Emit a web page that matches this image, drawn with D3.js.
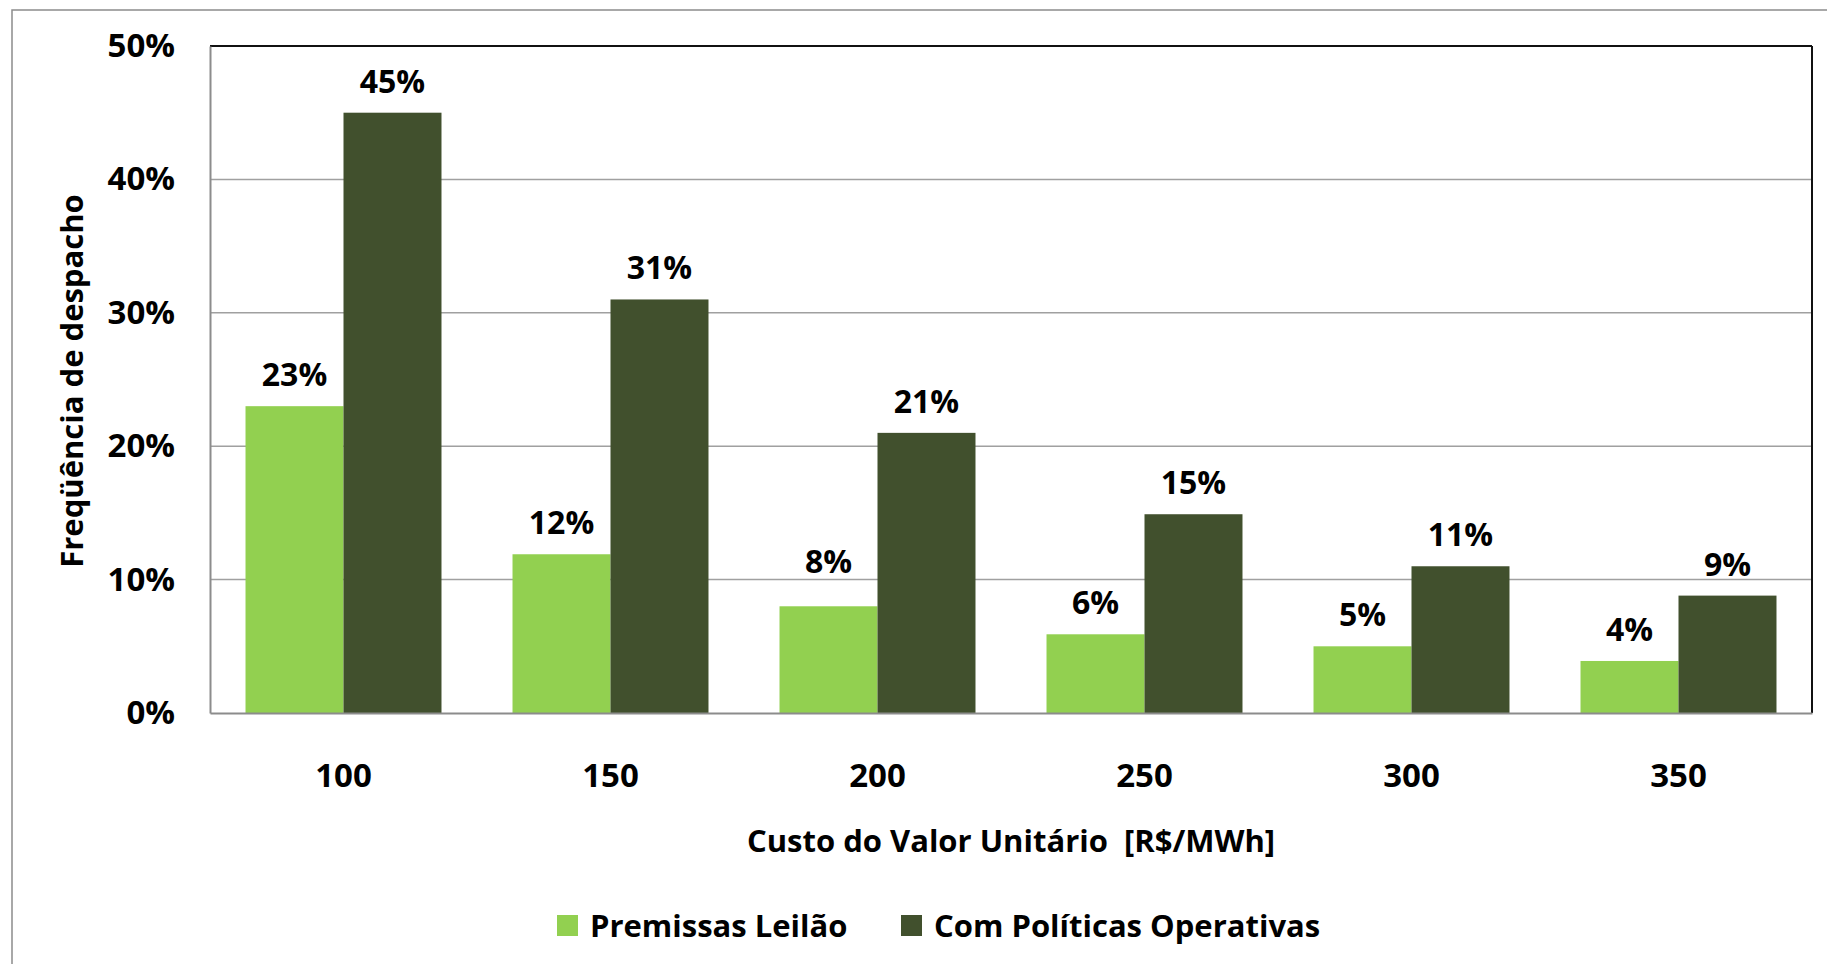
<!DOCTYPE html>
<html><head><meta charset="utf-8">
<script src="https://cdn.jsdelivr.net/npm/d3@7"></script>
<style>
html,body{margin:0;padding:0;background:#fff;}
svg{display:block;}
text{font-family:"Open Sans",sans-serif;font-weight:700;fill:#000;}
</style></head>
<body>
<svg id="chart" width="1827" height="964"></svg>
<script>
const categories = ["100","150","200","250","300","350"];
const seriesNames = ["Premissas Leilão","Com Políticas Operativas"];
const premissasLeilao = [0.23, 0.119, 0.08, 0.059, 0.05, 0.039];
const comPoliticas = [0.45, 0.31, 0.21, 0.149, 0.11, 0.088];
const yTicks = [0, 0.1, 0.2, 0.3, 0.4, 0.5];
const colors = ["#92D050", "#41502D"];
const xTitle = "Custo do Valor Unitário\u00A0\u00A0[R$/MWh]";
const yTitle = "Freqüência de despacho";

const svg = d3.select("#chart");
const L = 210, R = 1812, T = 46, B = 713;

// outer frame
svg.append("rect").attr("x",12).attr("y",10).attr("width",1840).attr("height",1000)
  .attr("fill","none").attr("stroke","#8c8c8c").attr("stroke-width",1.5);

const x0 = d3.scaleBand().domain(categories).range([L, R]).paddingInner(0.266).paddingOuter(0.133);
const x1 = d3.scaleBand().domain(seriesNames).range([0, x0.bandwidth()]).padding(0);
const y = d3.scaleLinear().domain([0, 0.5]).range([B, T]);

const gridVals = yTicks.filter(d => d > 0 && d < 0.5);
// gridlines
svg.append("g").selectAll("line").data(gridVals).join("line")
  .attr("x1", L).attr("x2", R).attr("y1", d => y(d)).attr("y2", d => y(d))
  .attr("stroke", "#a0a0a0").attr("stroke-width", 1.5);

// bars
const rows = categories.map((c, i) => ({cat: c, vals: [premissasLeilao[i], comPoliticas[i]]}));
const grp = svg.append("g").selectAll("g").data(rows).join("g")
  .attr("transform", d => `translate(${x0(d.cat)},0)`);
grp.selectAll("rect").data(d => d.vals.map((v, j) => ({s: seriesNames[j], v, j}))).join("rect")
  .attr("x", d => x1(d.s)).attr("width", x1.bandwidth())
  .attr("y", d => y(d.v)).attr("height", d => B - y(d.v))
  .attr("fill", d => colors[d.j]);

// data labels (moved above a gridline if it would cross the text)
const fmt = d3.format(".0%");
function labelY(v) {
  let base = y(v) - 20;
  gridVals.forEach(g => {
    const gy = y(g);
    if (gy < base && gy > base - 24) base = gy - 7;
  });
  return base;
}
grp.selectAll("text").data(d => d.vals.map((v, j) => ({s: seriesNames[j], v, j}))).join("text")
  .attr("x", d => x1(d.s) + x1.bandwidth() / 2)
  .attr("y", d => labelY(d.v))
  .attr("text-anchor", "middle").attr("font-size", 32)
  .text(d => fmt(d.v));

// plot frame: top & right black, left & bottom gray
svg.append("line").attr("x1", L).attr("x2", R).attr("y1", T).attr("y2", T).attr("stroke", "#111").attr("stroke-width", 2);
svg.append("line").attr("x1", R).attr("x2", R).attr("y1", T).attr("y2", B).attr("stroke", "#111").attr("stroke-width", 2);

// axes
const yAxis = svg.append("g").attr("transform", `translate(${L},0)`)
  .call(d3.axisLeft(y).tickValues(yTicks).tickFormat(d3.format(".0%")).tickSize(0).tickPadding(35));
yAxis.select(".domain").attr("stroke", "#8c8c8c").attr("stroke-width", 2);
yAxis.selectAll("text").attr("font-size", 33).attr("font-family", "Open Sans").attr("font-weight", 700).attr("fill", "#000");

const xAxis = svg.append("g").attr("transform", `translate(0,${B})`)
  .call(d3.axisBottom(x0).tickSize(0).tickPadding(51));
xAxis.select(".domain").attr("stroke", "#8c8c8c").attr("stroke-width", 2);
xAxis.selectAll("text").attr("font-size", 33).attr("font-family", "Open Sans").attr("font-weight", 700).attr("fill", "#000");

// axis titles
svg.append("text").attr("x", (L + R) / 2).attr("y", 852).attr("text-anchor", "middle")
  .attr("font-size", 31).text(xTitle);
svg.append("text").attr("transform", "translate(83,381) rotate(-90)").attr("text-anchor", "middle")
  .attr("font-size", 31).text(yTitle);

// legend
const leg = [{x: 557, name: seriesNames[0], c: colors[0]}, {x: 901, name: seriesNames[1], c: colors[1]}];
const lg = svg.append("g").selectAll("g").data(leg).join("g").attr("transform", d => `translate(${d.x},915)`);
lg.append("rect").attr("width", 21).attr("height", 21).attr("fill", d => d.c);
lg.append("text").attr("x", 33).attr("y", 22).attr("font-size", 31).text(d => d.name);
</script>
</body></html>
